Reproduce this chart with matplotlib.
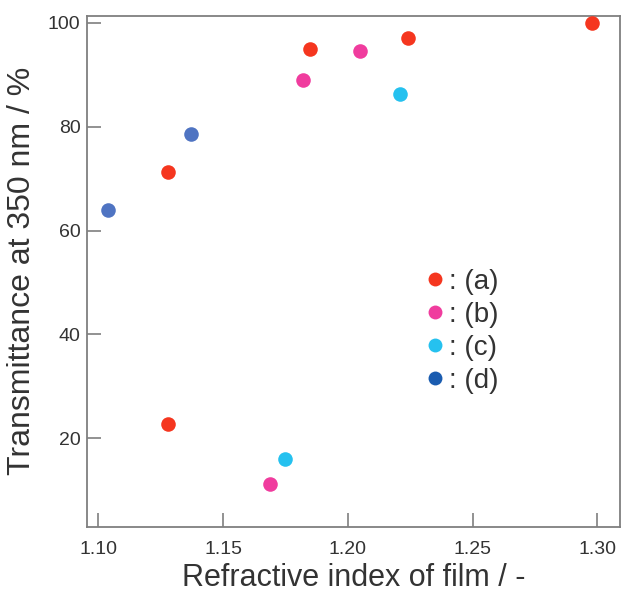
import matplotlib.pyplot as plt
from matplotlib.lines import Line2D

plt.rcParams['font.family'] = ['Liberation Sans', 'DejaVu Sans']

# Datos
a_x = [1.128, 1.128, 1.185, 1.224, 1.298]
a_y = [22.7, 71.3, 95.0, 97.0, 100.0]
b_x = [1.169, 1.182, 1.205]
b_y = [11.2, 89.0, 94.6]
c_x = [1.175, 1.221]
c_y = [16.0, 86.2]
d_x = [1.104, 1.137]
d_y = [64.0, 78.5]

labels = [": (a)", ": (b)", ": (c)", ": (d)"]
colors = ["#f5361f", "#f03c9e", "#25c1ef", "#4f74c2"]
legend_colors = ["#f5361f", "#f03c9e", "#25c1ef", "#1a5cb0"]
grey = "#7f7f7f"

fig = plt.figure(figsize=(6.22, 5.92), dpi=100)
ax = fig.add_axes([0.1404, 0.1103, 0.8564, 0.8635])

for xs, ys, col in zip([a_x, b_x, c_x, d_x], [a_y, b_y, c_y, d_y], colors):
    ax.scatter(xs, ys, s=110, color=col, linewidths=0, zorder=3, clip_on=False)

ax.set_xlim(1.0956, 1.3091)
ax.set_ylim(3.0, 101.4)
ax.set_xticks([1.10, 1.15, 1.20, 1.25, 1.30])
ax.set_xticklabels(["1.10", "1.15", "1.20", "1.25", "1.30"])
ax.set_yticks([20, 40, 60, 80, 100])

for sp in ax.spines.values():
    sp.set_color(grey)
    sp.set_linewidth(1.3)
ax.tick_params(direction='in', length=10, width=1.2, color=grey,
               labelsize=14, labelcolor="#333333")
ax.tick_params(axis='y', pad=5)
ax.tick_params(axis='x', pad=10)

ax.set_xlabel("Refractive index of film / -", fontsize=22, color="#333333", labelpad=4)
ax.set_ylabel("Transmittance at 350 nm / %", fontsize=23, color="#333333", labelpad=8)

handles = [Line2D([], [], marker='o', linestyle='none', markersize=10,
                  markerfacecolor=c, markeredgewidth=0) for c in legend_colors]
ax.legend(handles, labels, loc='upper left', bbox_to_anchor=(0.58, 0.553),
          frameon=False, fontsize=20, handletextpad=0.0, labelspacing=0.25,
          handlelength=1.0, labelcolor="#333333")

fig.savefig("out.png", dpi=100)
plt.close()
